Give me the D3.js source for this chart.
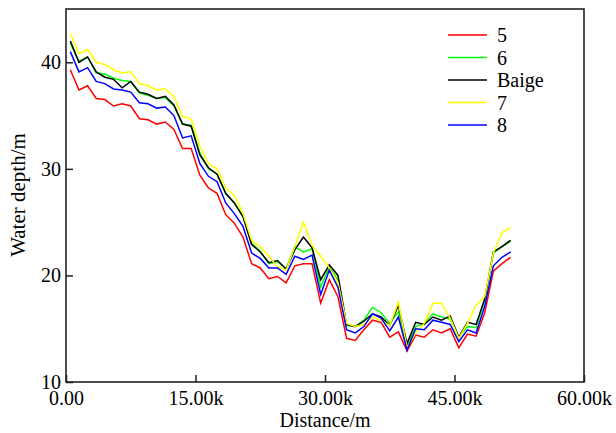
<!DOCTYPE html>
<html>
<head>
<meta charset="utf-8">
<script src="https://cdn.jsdelivr.net/npm/d3@7"></script>
<style>
  html, body { margin: 0; padding: 0; background: #fff; }
  text { font-family: "Liberation Serif", "Times New Roman", serif; fill: #000; }
</style>
</head>
<body>
<svg id="chart" width="616" height="433"></svg>
<script>
// Survey distances along the reach (km; the axis shows metres with a "k" suffix)
const distanceKm = [
  0.5, 1.5, 2.5, 3.5, 4.5, 5.5, 6.5, 7.5, 8.5, 9.5,
  10.5, 11.5, 12.5, 13.5, 14.5, 15.5, 16.5, 17.5, 18.5, 19.5,
  20.5, 21.5, 22.5, 23.5, 24.5, 25.5, 26.5, 27.5, 28.5, 29.5,
  30.5, 31.5, 32.5, 33.5, 34.5, 35.5, 36.5, 37.5, 38.5, 39.5,
  40.5, 41.5, 42.5, 43.5, 44.5, 45.5, 46.5, 47.5, 48.5, 49.5,
  50.5, 51.5
];

// Water depth (m) for each scheme
const depth5 = [
  39.3, 37.4, 37.8, 36.6, 36.5, 35.9, 36.1, 35.9, 34.7, 34.6,
  34.2, 34.4, 33.7, 31.9, 31.9, 29.4, 28.2, 27.7, 25.7, 24.9,
  23.6, 21.1, 20.7, 19.7, 19.9, 19.3, 20.9, 21.1, 21.1, 17.4,
  19.6, 18.0, 14.1, 13.9, 14.9, 15.8, 15.6, 14.2, 14.7, 12.9,
  14.4, 14.2, 14.9, 14.6, 15.0, 13.2, 14.5, 14.3, 16.5, 20.4,
  21.1, 21.7
];
const depth6 = [
  41.8, 40.1, 40.5, 39.0, 38.9, 38.5, 38.3, 38.2, 37.1, 36.9,
  36.6, 36.7, 35.9, 34.2, 34.1, 31.5, 30.0, 29.5, 27.7, 26.8,
  25.6, 23.0, 22.3, 21.1, 21.3, 20.6, 22.7, 22.2, 22.5, 18.9,
  20.8, 19.6, 15.3, 15.2, 15.8, 17.0, 16.5, 15.5, 16.6, 13.3,
  15.2, 15.5, 16.4, 16.1, 15.9, 14.2, 15.2, 15.1, 17.7, 22.1,
  22.7, 23.2
];
const depthBaige = [
  42.0, 40.0, 40.5, 39.1, 38.6, 38.4, 37.6, 38.2, 37.2, 37.0,
  36.6, 36.8, 36.0, 34.2, 34.0, 31.3, 30.1, 29.5, 27.7, 26.8,
  25.5, 22.9, 22.2, 21.2, 21.4, 20.6, 22.4, 23.6, 22.6, 19.6,
  21.0, 20.0, 15.4, 15.2, 15.7, 16.4, 16.1, 15.3, 17.2, 13.6,
  15.6, 15.4, 16.1, 15.8, 16.2, 14.2, 15.6, 15.4, 17.8, 22.2,
  22.7, 23.3
];
const depth7 = [
  42.7, 40.8, 41.2, 40.0, 39.8, 39.3, 39.0, 39.1, 38.0, 37.8,
  37.4, 37.5, 36.8, 34.9, 34.7, 32.1, 30.5, 30.0, 28.2, 27.5,
  25.8, 23.3, 22.7, 21.8, 20.8, 20.5, 22.7, 25.0, 22.8, 21.8,
  20.7, 19.3, 15.5, 15.2, 15.4, 16.1, 15.8, 15.3, 17.5, 13.2,
  14.6, 15.5, 17.4, 17.4, 16.0, 14.1, 15.5, 17.2, 18.0, 22.1,
  24.0, 24.5
];
const depth8 = [
  41.0, 39.1, 39.5, 38.2, 38.0, 37.5, 37.4, 37.2, 36.2, 36.1,
  35.7, 35.8, 35.0, 32.9, 33.1, 30.5, 29.3, 28.8, 26.8, 25.8,
  24.6, 22.1, 21.6, 20.7, 20.7, 20.1, 21.8, 21.5, 21.9, 18.2,
  20.5, 18.9, 14.9, 14.6, 15.2, 16.4, 16.0, 14.8, 16.1, 13.0,
  15.0, 14.9, 15.8, 15.6, 15.4, 13.8, 14.9, 14.6, 17.1, 20.9,
  21.7, 22.2
];

const seriesNames = ["5", "6", "Baige", "7", "8"];
const seriesColors = ["#ff0000", "#00ff00", "#000000", "#ffff00", "#0000ff"];
const seriesValues = [depth5, depth6, depthBaige, depth7, depth8];

const xTicks = [0, 15, 30, 45, 60];
const xTickLabels = ["0.00", "15.00k", "30.00k", "45.00k", "60.00k"];
const yTicks = [10, 20, 30, 40];

const margin = { left: 66, right: 32, top: 9, bottom: 51 };
const width = 616, height = 433;

const svg = d3.select("#chart");

const x = d3.scaleLinear().domain([0, 60]).range([margin.left, width - margin.right]);
const y = d3.scaleLinear().domain([10, 45]).range([height - margin.bottom, margin.top]);

// Lines
const line = d3.line().x((d, i) => x(distanceKm[i])).y(d => y(d));
const plot = svg.append("g");
seriesValues.forEach((vals, k) => {
  plot.append("path")
    .datum(vals)
    .attr("fill", "none")
    .attr("stroke", seriesColors[k])
    .attr("stroke-width", 1.5)
    .attr("stroke-linejoin", "miter")
    .attr("d", line);
});

// Frame
svg.append("rect")
  .attr("x", x(0)).attr("y", y(45))
  .attr("width", x(60) - x(0)).attr("height", y(10) - y(45))
  .attr("fill", "none").attr("stroke", "#222").attr("stroke-width", 1.6);

// X axis (inward ticks)
const xAxis = d3.axisBottom(x)
  .tickValues(xTicks)
  .tickFormat((d, i) => xTickLabels[i])
  .tickSizeInner(-7).tickSizeOuter(0).tickPadding(9);
const gx = svg.append("g").attr("transform", `translate(0,${y(10)})`).call(xAxis);
gx.select(".domain").remove();
gx.selectAll(".tick line").attr("stroke", "#222").attr("stroke-width", 1.5);
gx.selectAll(".tick text")
  .style("font-family", "'Liberation Serif', serif")
  .style("font-size", "20px").attr("fill", "#000");

// Y axis (inward ticks)
const yAxis = d3.axisLeft(y)
  .tickValues(yTicks)
  .tickFormat(d3.format("d"))
  .tickSizeInner(-7).tickSizeOuter(0).tickPadding(5);
const gy = svg.append("g").attr("transform", `translate(${x(0)},0)`).call(yAxis);
gy.select(".domain").remove();
gy.selectAll(".tick line").attr("stroke", "#222").attr("stroke-width", 1.5);
gy.selectAll(".tick text")
  .style("font-family", "'Liberation Serif', serif")
  .style("font-size", "20px").attr("fill", "#000");

// Axis titles
svg.append("text")
  .attr("x", (x(0) + x(60)) / 2).attr("y", 427)
  .attr("text-anchor", "middle").style("font-size", "20px")
  .text("Distance/m");
svg.append("text")
  .attr("transform", `translate(25,195) rotate(-90)`)
  .attr("text-anchor", "middle").style("font-size", "21px")
  .text("Water depth/m");

// Legend
const legend = svg.append("g");
seriesNames.forEach((name, k) => {
  const ly = 35 + k * 22.5;
  legend.append("line")
    .attr("x1", 448).attr("x2", 487).attr("y1", ly).attr("y2", ly)
    .attr("stroke", seriesColors[k]).attr("stroke-width", 1.5);
  legend.append("text")
    .attr("x", 497).attr("y", ly).attr("dy", "0.35em")
    .style("font-size", "20px").text(name);
});
</script>
</body>
</html>
